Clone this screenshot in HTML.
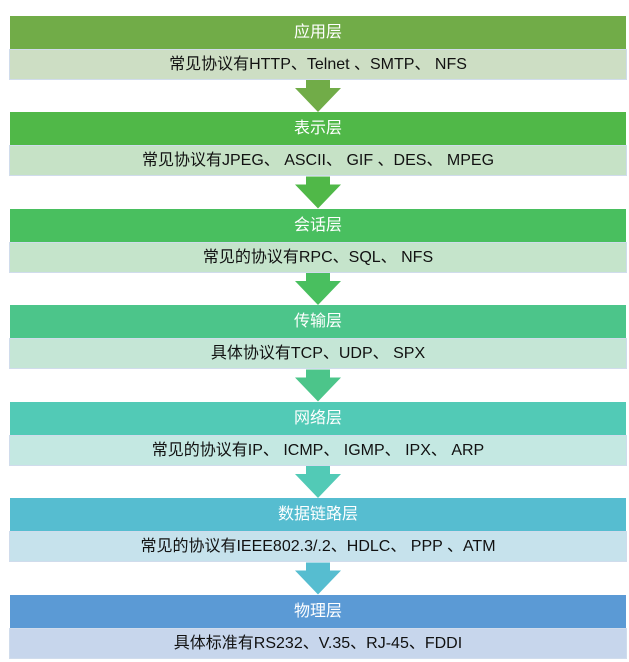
<!DOCTYPE html>
<html><head><meta charset="utf-8"><style>
body{margin:0;width:629px;height:662px;background:#fff;position:relative;overflow:hidden;font-family:"Liberation Sans","Noto Sans CJK SC",sans-serif;}
.h{position:absolute;left:10px;width:616px;height:33px;color:#fff;font-size:16px;line-height:33px;text-align:center;}
.s{position:absolute;left:9px;width:616px;height:29px;border:1px solid #d0dcec;color:#111;font-size:16px;line-height:29px;text-align:center;box-sizing:content-box;}
svg{position:absolute;left:0;top:0;}
</style></head><body>
<div class="h" style="top:16px;background:#71ac48">应用层</div>
<div class="s" style="top:49px;background:#cddec4">常见协议有HTTP、Telnet 、SMTP、 NFS</div>
<div class="h" style="top:112px;background:#50b848">表示层</div>
<div class="s" style="top:145px;background:#c6e2c6">常见协议有JPEG、 ASCII、 GIF 、DES、 MPEG</div>
<div class="h" style="top:209px;background:#49bf5f">会话层</div>
<div class="s" style="top:242px;background:#c5e4cb">常见的协议有RPC、SQL、 NFS</div>
<div class="h" style="top:305px;background:#4cc58a">传输层</div>
<div class="s" style="top:338px;background:#c5e6d6">具体协议有TCP、UDP、 SPX</div>
<div class="h" style="top:402px;background:#52cab6">网络层</div>
<div class="s" style="top:435px;background:#c4e8e2">常见的协议有IP、 ICMP、 IGMP、 IPX、 ARP</div>
<div class="h" style="top:498px;background:#56bdd0">数据链路层</div>
<div class="s" style="top:531px;background:#c6e2ec">常见的协议有IEEE802.3/.2、HDLC、 PPP 、ATM</div>
<div class="h" style="top:595px;background:#5b9ad5">物理层</div>
<div class="s" style="top:628px;background:#c7d6ec">具体标准有RS232、V.35、RJ-45、FDDI</div>
<svg width="629" height="662">
<g id="a"><polygon points="306,80 330,80 330,88 341,88 318,112 295,88 306,88" fill="#71ac48"/></g>
<polygon transform="translate(0,96.5)" points="306,80 330,80 330,88 341,88 318,112 295,88 306,88" fill="#50b848"/>
<polygon transform="translate(0,193)" points="306,80 330,80 330,88 341,88 318,112 295,88 306,88" fill="#49bf5f"/>
<polygon transform="translate(0,289.5)" points="306,80 330,80 330,88 341,88 318,112 295,88 306,88" fill="#4cc58a"/>
<polygon transform="translate(0,386)" points="306,80 330,80 330,88 341,88 318,112 295,88 306,88" fill="#52cab6"/>
<polygon transform="translate(0,482.5)" points="306,80 330,80 330,88 341,88 318,112 295,88 306,88" fill="#56bdd0"/>
</svg>
</body></html>
